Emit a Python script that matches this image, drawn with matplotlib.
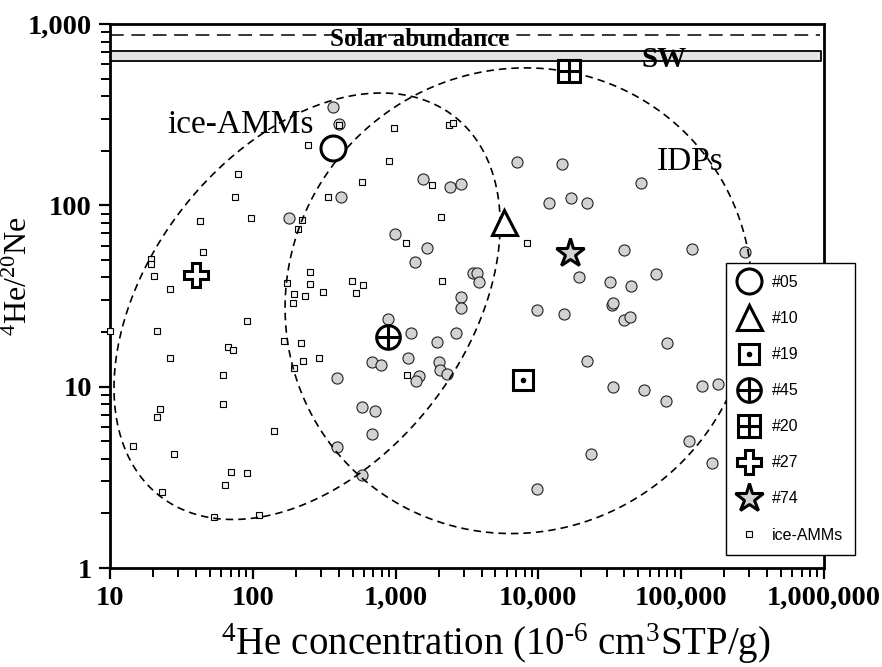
import numpy as np
import matplotlib
matplotlib.use('Agg')
import matplotlib.pyplot as plt
from matplotlib.lines import Line2D
from matplotlib.ticker import NullFormatter

plt.rcParams['font.family'] = 'Liberation Serif'
plt.rcParams['mathtext.fontset'] = 'custom'
plt.rcParams['mathtext.rm'] = 'Liberation Serif'
plt.rcParams['mathtext.it'] = 'Liberation Serif:italic'
plt.rcParams['mathtext.bf'] = 'Liberation Serif:bold'

# IDPs (grey circles): 4He concentration, 4He/20Ne
idp_he = [364, 401, 415, 179, 1555, 2400, 2870, 7080, 14600, 11900, 16900, 21900,
          52300, 990, 1660, 1370, 3480, 3720, 3840, 2870, 2870, 19200, 39700, 119000,
          280000, 31700, 44500, 66600, 9770, 15100, 885, 1280, 2650, 1950, 683, 790,
          1220, 2010, 2050, 2290, 1460, 1390, 582, 717, 683, 582, 9770, 389, 389,
          32800, 33300, 39700, 43800, 79600, 21900, 33300, 54900, 78300, 140000,
          181000, 113000, 23400, 164000]
idp_ratio = [349, 281, 111, 85.3, 140, 126, 131, 174, 169, 103, 110, 103,
             133, 69.7, 58.3, 48.8, 42.5, 42.5, 37.9, 31.3, 27.2, 40.4, 56.9, 57.6,
             55.4, 37.9, 36.0, 41.9, 26.6, 25.2, 23.7, 19.8, 19.8, 17.7, 13.7, 13.2,
             14.3, 13.6, 12.3, 11.8, 11.5, 10.7, 7.76, 7.38, 5.51, 3.27, 2.74, 11.1, 4.67,
             28.3, 29.0, 23.4, 24.3, 17.5, 13.9, 10.0, 9.63, 8.37, 10.1,
             10.3, 5.04, 4.27, 3.81]

# ice-AMMs (small squares)
amm_he = [244, 975, 899, 2370, 2520, 78.8, 75.1, 336, 582, 1800, 42.7, 97.1, 221, 207,
          2080, 1180, 8320, 44.8, 19.4, 19.4, 20.3, 26.3, 252, 252, 174, 310, 495, 591,
          528, 2110, 194, 232, 191, 91.1, 21.3, 10.0, 67.1, 72.7, 165, 218, 26.3, 225,
          291, 194, 61.8, 61.8, 22.4, 21.3, 141, 14.5, 28.1, 70.4, 91.1, 63.9, 23.1,
          53.5, 110, 1200, 959, 401]
amm_ratio = [215, 267, 176, 278, 285, 149, 111, 111, 135, 130, 82.1, 85.3, 83.2, 74.2,
             86.4, 62.1, 62.1, 55.4, 50.7, 47.6, 40.9, 34.7, 43.0, 36.9, 37.4, 33.4, 38.4, 36.5,
             33.0, 38.4, 32.5, 31.7, 29.0, 23.1, 20.3, 20.3, 16.6, 16.0, 17.9, 17.5, 14.3, 13.9,
             14.3, 12.7, 11.65, 8.06, 7.56, 6.83, 5.72, 4.73, 4.27, 3.40, 3.36, 2.87, 2.64,
             1.90, 1.95, 11.65, 20.3, 278]

# individual particles
spec_labels = ['#05', '#10', '#19', '#45', '#20', '#27', '#74']
spec_he = [364, 5740, 7800, 885, 16400, 40.0, 16600]
spec_ratio = [207, 81.1, 10.9, 18.9, 551, 41.4, 54.7]

# reference values
solar_ratio = 869
sw_low, sw_high = 625, 710

# population ellipses in log10 space: centre x, centre y, half-width x, half-height y, correlation
amm_ell = (2.380, 1.4435, 1.352, 1.176, 0.384)
idp_ell = (3.861, 1.474, 1.635, 1.284, 0.03)

xticks = [10, 100, 1000, 10000, 100000, 1000000]
xticklabels = ['10', '100', '1,000', '10,000', '100,000', '1,000,000']
yticks = [1, 10, 100, 1000]
yticklabels = ['1', '10', '100', '1,000']

fig = plt.figure(figsize=(8.82, 6.67), dpi=100)
ax = fig.add_axes([110/882, 1-568/667, 714/882, 544/667])
ax.set_xscale('log')
ax.set_yscale('log')
ax.set_xlim(10, 1e6)
ax.set_ylim(1, 1000)

# solar abundance and solar wind
ax.axhline(solar_ratio, xmin=0, xmax=0.995, color='k', lw=1.1, ls=(0, (9, 5)), zorder=2)
ax.fill_between([10, 9.5e5], sw_low, sw_high, facecolor='#e4e4e4', edgecolor='k', lw=1.3, zorder=2)
ax.text(1480, 755, 'Solar abundance', ha='center', va='baseline', fontsize=18, fontweight='bold', zorder=3)
ax.text(75800, 579, 'SW', ha='center', va='baseline', fontsize=21, fontweight='bold', zorder=3)

# ellipses
t = np.linspace(0, 2*np.pi, 400)
for cx, cy, wx, wy, r in [amm_ell, idp_ell]:
    lx = cx + wx*np.cos(t)
    ly = cy + wy*(r*np.cos(t) + np.sqrt(1-r**2)*np.sin(t))
    ax.plot(10**lx, 10**ly, color='k', lw=1.2, ls=(0, (4.5, 3)), zorder=4)

ax.plot(idp_he, idp_ratio, 'o', ls='none', ms=8, mfc='#d2d2d2', mec='#222222', mew=0.8, zorder=3)
ax.plot(amm_he, amm_ratio, 's', ls='none', ms=5, mfc='#f2f2f2', mec='k', mew=0.8, zorder=3,
        clip_on=False)

ax.text(25.1, 251, 'ice-AMMs', fontsize=24, ha='left', va='baseline')
ax.text(67600, 157, 'IDPs', fontsize=24, ha='left', va='baseline')

styles = [
    [dict(marker='o', ms=18)],
    [dict(marker='^', ms=18)],
    [dict(marker='s', ms=15), dict(marker='o', ms=4, mfc='k', mew=0)],
    [dict(marker='o', ms=17), dict(marker='+', ms=17)],
    [dict(marker='s', ms=16), dict(marker='+', ms=16)],
    [dict(marker='P', ms=17)],
    [dict(marker='*', ms=21, mfc='#d2d2d2')],
]
handles = []
for i, st in enumerate(styles):
    parts = []
    for s in st:
        kw = dict(mfc='white', mec='k', mew=2.2, ls='none')
        kw.update(s)
        ln, = ax.plot(spec_he[i], spec_ratio[i], zorder=6, **kw)
        parts.append(ln)
    handles.append(tuple(parts) if len(parts) > 1 else parts[0])
handles.append(Line2D([], [], marker='s', ls='none', ms=5, mfc='#f2f2f2', mec='k', mew=0.8))
labels = spec_labels + ['ice-AMMs']

leg = fig.legend(handles, labels, loc='upper left', bbox_to_anchor=(726/882, 1-263/667),
                 borderaxespad=0, frameon=True, fancybox=False,
                 edgecolor='k', framealpha=1, borderpad=0.75, handlelength=1.35, handletextpad=0.75,
                 labelspacing=1.32, prop={'family': 'Liberation Sans', 'size': 11.5})
leg.get_frame().set_linewidth(1.0)

ax.set_xticks(xticks)
ax.set_xticklabels(xticklabels, fontweight='bold')
ax.set_yticks(yticks)
ax.set_yticklabels(yticklabels, fontweight='bold')
ax.xaxis.set_minor_formatter(NullFormatter())
ax.yaxis.set_minor_formatter(NullFormatter())
ax.tick_params(which='major', direction='out', length=8, width=1.6, labelsize=20.5, pad=5)
ax.tick_params(which='minor', direction='out', length=6.5, width=1.4)
for sp in ax.spines.values():
    sp.set_linewidth(2.0)

ax.set_xlabel(r'${}^{4}$He concentration (10${}^{\text{-}6}$ cm${}^{3}$STP/g)', fontsize=28)
ax.set_ylabel(r'${}^{4}$He/${}^{20}$Ne', fontsize=23)
ax.xaxis.set_label_coords(0.54, -0.098)
ax.yaxis.set_label_coords(-0.106, 0.537)

fig.savefig('out.png', dpi=100)
